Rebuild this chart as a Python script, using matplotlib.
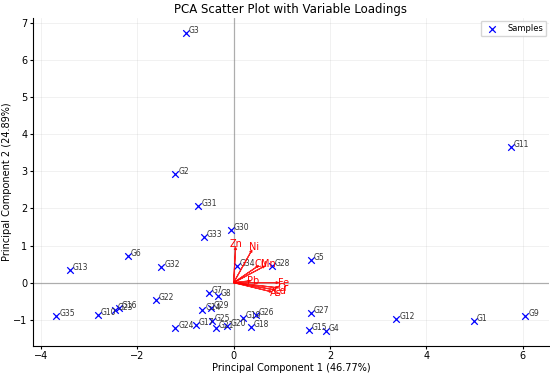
import matplotlib
matplotlib.use("Agg")
import matplotlib.pyplot as plt

names = ["G1","G2","G3","G4","G5","G6","G7","G8","G9","G10","G11","G12",
         "G13","G14","G15","G16","G17","G18","G19","G20","G21","G22","G23",
         "G24","G25","G26","G27","G28","G29","G30","G31","G32","G33","G34","G35"]
pc1 = [4.99,-1.21,-0.99,1.92,1.61,-2.20,-0.52,-0.32,6.06,-2.81,5.76,3.38,
       -3.40,-0.65,1.56,-2.38,-0.79,0.36,0.19,-0.13,-0.36,-1.62,-2.46,
       -1.21,-0.45,0.47,1.61,0.80,-0.48,-0.06,-0.73,-1.50,-0.62,0.06,-3.68]
pc2 = [-1.04,2.93,6.72,-1.30,0.60,0.71,-0.29,-0.37,-0.91,-0.86,3.66,-0.97,
       0.35,-0.73,-1.27,-0.67,-1.14,-1.19,-0.95,-1.16,-1.22,-0.47,-0.73,
       -1.22,-1.03,-0.88,-0.81,0.46,-0.68,1.43,2.07,0.42,1.22,0.46,-0.90]

variables = ["Zn","Ni","Cu","Mn","Pb","Fe","Cr","Cd","As"]
load1 = [0.04,0.38,0.52,0.65,0.36,0.94,0.93,0.88,0.80]
load2 = [0.95,0.88,0.46,0.45,0.05,0.00,-0.14,-0.20,-0.25]

fig, ax = plt.subplots(figsize=(5.5,3.8), dpi=100)
fig.subplots_adjust(left=0.06, right=0.998, top=0.952, bottom=0.09)

ax.scatter(pc1, pc2, marker='x', color='blue', s=22, linewidths=0.9, label='Samples', zorder=3)
for n, x, y in zip(names, pc1, pc2):
    ax.annotate(n, (x, y), xytext=(2, 0), textcoords='offset points',
                fontsize=5.5, color='#333333', va='baseline', ha='left')

for v, x, y in zip(variables, load1, load2):
    ax.arrow(0, 0, x, y, color='red', alpha=0.85, head_width=0.05, head_length=0.06,
             linewidth=0.8, length_includes_head=True, zorder=4)
    ax.text(x*1.1, y*1.1, v, color='red', fontsize=7, ha='center', va='center', zorder=5)

ax.axhline(0, color='grey', linewidth=0.9, alpha=0.6)
ax.axvline(0, color='grey', linewidth=0.9, alpha=0.6)
ax.grid(True, alpha=0.25, linewidth=0.5)

ax.set_title("PCA Scatter Plot with Variable Loadings", fontsize=8.5, pad=4)
ax.set_xlabel("Principal Component 1 (46.77%)", fontsize=7, labelpad=1)
ax.set_ylabel("Principal Component 2 (24.89%)", fontsize=7, labelpad=1)
ax.tick_params(labelsize=7, length=2.5, pad=1.5)
ax.set_xticks([-4,-2,0,2,4,6])
ax.set_yticks([-1,0,1,2,3,4,5,6,7])
ax.spines['top'].set_visible(False)
ax.spines['right'].set_visible(False)
ax.legend(loc='upper right', fontsize=6, borderaxespad=0.3)

fig.savefig("out.png", dpi=100)
